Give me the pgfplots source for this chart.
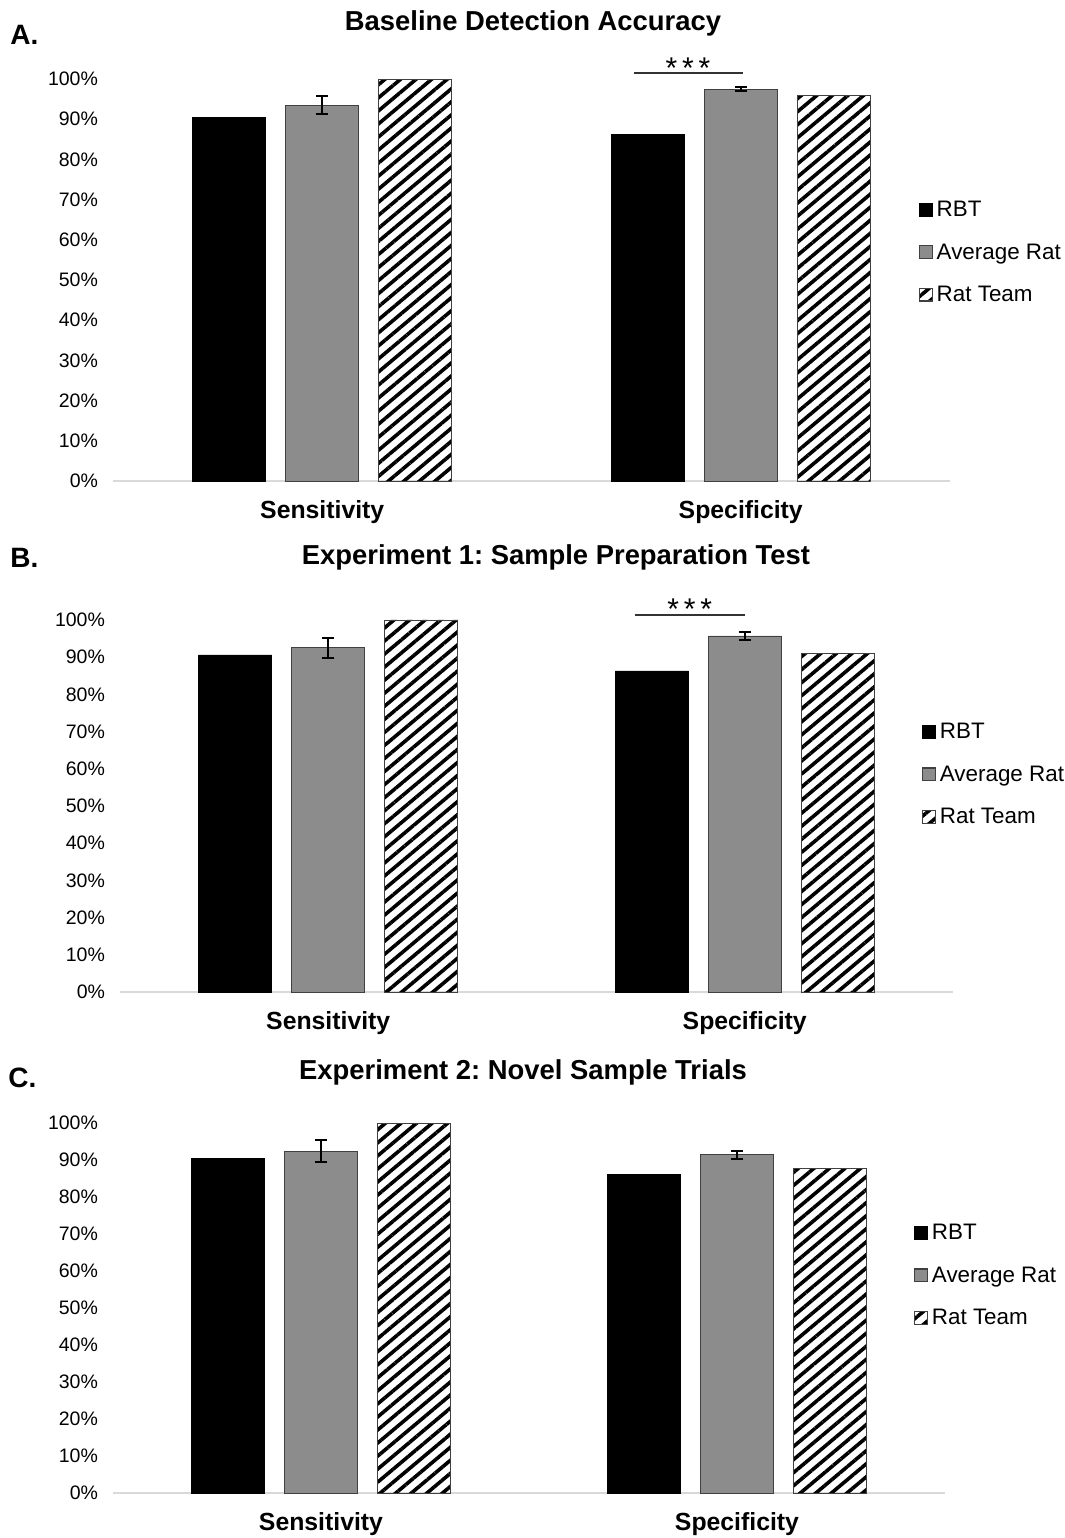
\documentclass[border=0pt]{standalone}
\usepackage{fontspec}
\setmainfont{Liberation Sans}
\usepackage{pgfplots}
\pgfplotsset{compat=1.18}
\usetikzlibrary{patterns.meta}
\frenchspacing
\definecolor{bargray}{HTML}{8C8C8C}
\pgfplotsset{
 panel/.style={
  scale only axis, ybar, bar width=36.5pt,
  xmin=-0.5, xmax=1.5, ymin=0, ymax=100,
  xtick={0,1}, xticklabels={Sensitivity,Specificity},
  ytick={0,10,...,100}, yticklabel={\pgfmathprintnumber{\tick}\%},
  axis x line=bottom, axis y line=left,
  y axis line style={draw=none},
  x axis line style={draw=gray!30, line width=1pt, -},
  major tick length=0pt,
  xticklabel style={font=\bfseries\fontsize{12.4}{14}\selectfont, yshift=-6pt},
  yticklabel style={font=\fontsize{9.75}{11}\selectfont, xshift=-4pt},
  legend style={draw=none, fill=none, font=\fontsize{11.2}{13}\selectfont, anchor=west, row sep=8pt, cells={anchor=west}, /tikz/every even column/.append style={column sep=1pt}},
  legend image code/.code={\draw[#1, line width=0.6pt] (0pt,-2.8pt) rectangle (6.4pt,3.6pt);},
  clip=false,
  /pgf/number format/assume math mode=true,
 },
 rbt/.style={fill=black, draw=black, bar shift=-46.5pt},
 avg/.style={fill=bargray, draw=black!75, bar shift=0pt,
   error bars/.cd, y dir=both, y explicit,
   error bar style={black, line width=0.8pt},
   error mark options={black, line width=0.8pt, mark size=3pt, rotate=90}},
 team/.style={pattern={Lines[angle=40,distance=5pt,line width=1.8pt]}, pattern color=black, draw=black!75, bar shift=46.5pt},
}
\tikzset{starfont/.style={font=\fontsize{15}{16}\selectfont}}
\newcommand{\stars}{*\kern2.4pt*\kern2.4pt*}
\begin{document}
\begin{tikzpicture}
\useasboundingbox (0,0) rectangle (532.5pt,769pt);
% Titles and panel labels
\node[font=\bfseries\fontsize{13.7}{16}\selectfont] at (266.5pt,757.5pt) {Baseline Detection Accuracy};
\node[font=\bfseries\fontsize{13.7}{16}\selectfont] at (278pt,490.5pt) {Experiment 1: Sample Preparation Test};
\node[font=\bfseries\fontsize{13.7}{16}\selectfont] at (261.5pt,233pt) {Experiment 2: Novel Sample Trials};
\node[font=\bfseries\fontsize{14}{16}\selectfont, anchor=west, inner sep=0pt] at (5pt,751.5pt) {A.};
\node[font=\bfseries\fontsize{14}{16}\selectfont, anchor=west, inner sep=0pt] at (5pt,490pt) {B.};
\node[font=\bfseries\fontsize{14}{16}\selectfont, anchor=west, inner sep=0pt] at (4pt,230pt) {C.};

% Panel A
\begin{axis}[panel, at={(56.5pt,528.5pt)}, anchor=south west, width=418.5pt, height=201pt,
  legend style={at={(0.955,0.567)}}]
\addplot[rbt] coordinates {(0,90.5) (1,86.1)};
\addplot[avg] coordinates {(0,93.5) +- (0,2.2) (1,97.5) +- (0,0.5)};
\addplot[team] coordinates {(0,99.8) (1,96.0)};
\legend{RBT, Average Rat, Rat Team}
\draw[black!80, line width=0.7pt] (axis cs:0.745,101.5) -- (axis cs:1.005,101.5);
\node[starfont] at (axis cs:0.874,102.8) {\stars};
\end{axis}

% Panel B
\begin{axis}[panel, at={(60pt,273pt)}, anchor=south west, width=416.5pt, height=186pt,
  legend style={at={(0.955,0.583)}}]
\addplot[rbt] coordinates {(0,90.6) (1,86.3)};
\addplot[avg] coordinates {(0,92.5) +- (0,2.7) (1,95.7) +- (0,1.1)};
\addplot[team] coordinates {(0,100) (1,90.9)};
\legend{RBT, Average Rat, Rat Team}
\draw[black!80, line width=0.7pt] (axis cs:0.736,101.3) -- (axis cs:1.0,101.3);
\node[starfont] at (axis cs:0.868,102.9) {\stars};
\end{axis}

% Panel C
\begin{axis}[panel, at={(56.5pt,22.5pt)}, anchor=south west, width=416pt, height=185pt,
  legend style={at={(0.955,0.586)}}]
\addplot[rbt] coordinates {(0,90.5) (1,86.2)};
\addplot[avg] coordinates {(0,92.4) +- (0,3.0) (1,91.4) +- (0,1.1)};
\addplot[team] coordinates {(0,99.8) (1,87.8)};
\legend{RBT, Average Rat, Rat Team}
\end{axis}
\end{tikzpicture}
\end{document}
